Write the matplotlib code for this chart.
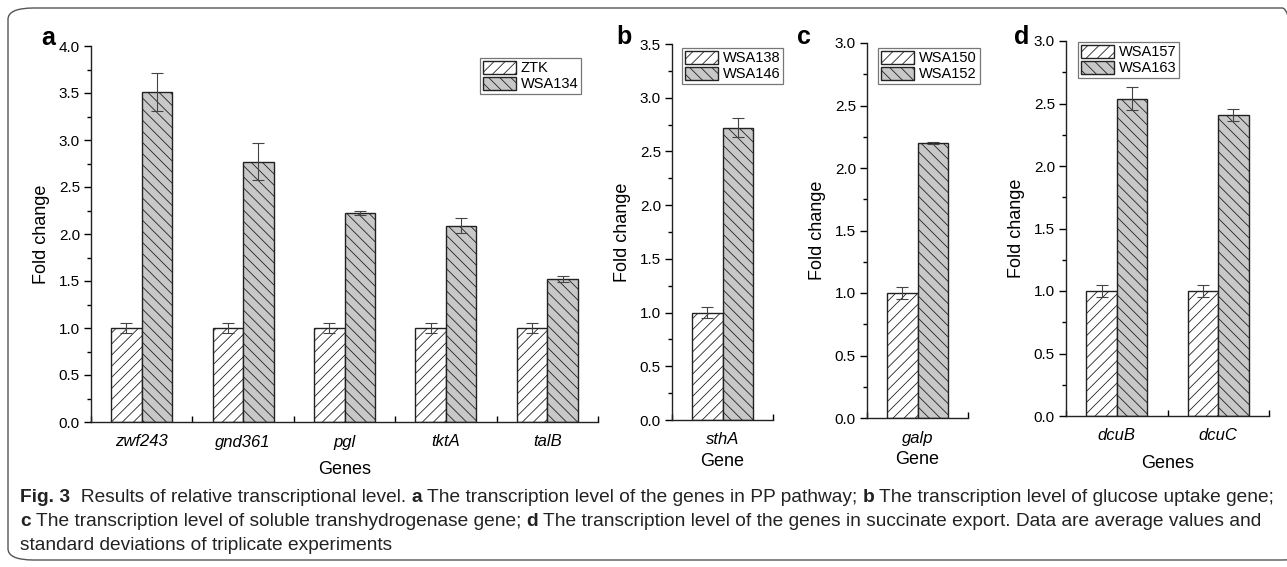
import matplotlib
matplotlib.use("Agg")
import matplotlib.pyplot as plt
from matplotlib.patches import FancyBboxPatch
from matplotlib.ticker import MultipleLocator, FixedLocator, FormatStrFormatter
import numpy as np

W, H = 1287, 567

# panel a
genes_a = ["zwf243", "gnd361", "pgl", "tktA", "talB"]
ztk = [1.0, 1.0, 1.0, 1.0, 1.0]
ztk_err = [0.05, 0.05, 0.05, 0.05, 0.05]
wsa134 = [3.51, 2.77, 2.22, 2.09, 1.52]
wsa134_err = [0.20, 0.20, 0.02, 0.08, 0.03]

# panel b
genes_b = ["sthA"]
wsa138 = [1.0]
wsa138_err = [0.05]
wsa146 = [2.72]
wsa146_err = [0.09]

# panel c
genes_c = ["galp"]
wsa150 = [1.0]
wsa150_err = [0.05]
wsa152 = [2.20]
wsa152_err = [0.005]

# panel d
genes_d = ["dcuB", "dcuC"]
wsa157 = [1.0, 1.0]
wsa157_err = [0.05, 0.05]
wsa163 = [2.54, 2.41]
wsa163_err = [0.09, 0.05]

plt.rcParams['font.family'] = ['Liberation Sans', 'DejaVu Sans']
plt.rcParams['hatch.linewidth'] = 0.6

fig = plt.figure(figsize=(W/100, H/100), dpi=100)

# rounded frame round the figure
frame = FancyBboxPatch((8/W, 1-560/H), 1300/W, 552/H,
                       boxstyle="round,pad=0,rounding_size=0.02",
                       transform=fig.transFigure, fill=False,
                       edgecolor="#555555", lw=1.0, clip_on=False)
fig.patches.append(frame)


def px_axes(l, r, t, b):
    return fig.add_axes([l/W, 1-b/H, (r-l)/W, (b-t)/H])


panels = [
    # letter, box (l, r, t, b), genes, names, values, ymax, xlabel, legend pos, letter pos
    ("a", (91, 598, 46, 422), genes_a, ("ZTK", "WSA134"),
     (ztk, ztk_err, wsa134, wsa134_err), 4.0, "Genes", (480, 58), (48, 38)),
    ("b", (672, 773, 44, 420), genes_b, ("WSA138", "WSA146"),
     (wsa138, wsa138_err, wsa146, wsa146_err), 3.5, "Gene", (682, 48), (624, 37)),
    ("c", (867, 968, 43, 418), genes_c, ("WSA150", "WSA152"),
     (wsa150, wsa150_err, wsa152, wsa152_err), 3.0, "Gene", (878, 48), (804, 37)),
    ("d", (1066, 1269, 41, 416), genes_d, ("WSA157", "WSA163"),
     (wsa157, wsa157_err, wsa163, wsa163_err), 3.0, "Genes", (1078, 42), (1022, 37)),
]

bw = 0.3
for letter, box, genes, names, vals, ymax, xlab, legpos, letpos in panels:
    ax = px_axes(*box)
    x = np.arange(len(genes))
    c, ce, t, te = vals
    ekw = dict(ecolor="#444444", elinewidth=0.8, capsize=4, capthick=0.8)
    ax.bar(x - bw/2, c, bw, yerr=ce, color="white", edgecolor="#222222",
           hatch="///", lw=1.0, label=names[0], error_kw=ekw, zorder=2)
    ax.bar(x + bw/2, t, bw, yerr=te, color="#c8c8c8", edgecolor="#222222",
           hatch="\\\\\\", lw=1.0, label=names[1], error_kw=ekw, zorder=2)
    ax.set_xlim(-0.5, len(genes) - 0.5)
    ax.set_ylim(0, ymax)
    ax.spines["top"].set_visible(False)
    ax.spines["right"].set_visible(False)
    for s in ("left", "bottom"):
        ax.spines[s].set_linewidth(1.0)
        ax.spines[s].set_color("#222222")
    ax.set_xticks(x)
    ax.set_xticklabels(genes, style="italic", fontsize=12)
    ax.xaxis.set_minor_locator(FixedLocator(np.arange(len(genes) + 1) - 0.5))
    ax.tick_params(axis="x", which="major", length=0, pad=9)
    ax.tick_params(axis="x", which="minor", direction="in", length=4, width=1.0)
    ax.yaxis.set_major_locator(MultipleLocator(0.5))
    ax.yaxis.set_minor_locator(MultipleLocator(0.25))
    ax.yaxis.set_major_formatter(FormatStrFormatter("%.1f"))
    ax.tick_params(axis="y", which="major", direction="out", length=5, width=1.0,
                   labelsize=11, pad=3)
    ax.tick_params(axis="y", which="minor", direction="out", length=3, width=1.0)
    ax.set_ylabel("Fold change", fontsize=13, labelpad=6)
    ax.set_xlabel(xlab, fontsize=13, labelpad=4 if letter in "bc" else 8)
    h, l = ax.get_legend_handles_labels()
    leg = ax.legend(h, l, loc="upper left", bbox_to_anchor=(legpos[0]/W, 1-legpos[1]/H),
                    bbox_transform=fig.transFigure, fontsize=10.5, frameon=True,
                    fancybox=False, edgecolor="#555555", handlelength=2.3,
                    handleheight=1.0, handletextpad=0.3, labelspacing=0.1,
                    borderpad=0.2, borderaxespad=0)
    leg.get_frame().set_linewidth(0.9)
    fig.text(letpos[0]/W, 1-letpos[1]/H, letter, fontsize=18, fontweight="bold",
             ha="center", va="center")

# caption, written run by run so bold letters sit inline
cap_lines = [
    [("Fig. 3", True), ("  Results of relative transcriptional level. ", False),
     ("a", True), (" The transcription level of the genes in PP pathway; ", False),
     ("b", True), (" The transcription level of glucose uptake gene;", False)],
    [("c", True), (" The transcription level of soluble transhydrogenase gene; ", False),
     ("d", True), (" The transcription level of the genes in succinate export. Data are average values and", False)],
    [("standard deviations of triplicate experiments", False)],
]
cap_y = [497, 521, 546]
cap_font = ['Liberation Sans', 'DejaVu Sans']
renderer = fig.canvas.get_renderer()


def line_width(runs, size):
    tot = 0
    for txt, bold in runs:
        tt = fig.text(0, 0, txt, fontsize=size, family=cap_font,
                      fontweight="bold" if bold else "normal")
        tot += tt.get_window_extent(renderer).width
        tt.remove()
    return tot


# shrink the caption so the first line spans the frame as in the original
size = 13.0
size = size * 1250 / line_width(cap_lines[0], size)

for runs, yy in zip(cap_lines, cap_y):
    xx = 20
    for txt, bold in runs:
        tt = fig.text(xx/W, 1-yy/H, txt, fontsize=size, family=cap_font,
                      fontweight="bold" if bold else "normal", va="center", ha="left",
                      color="#222222")
        xx += tt.get_window_extent(renderer).width

fig.savefig("out.png", dpi=100)
